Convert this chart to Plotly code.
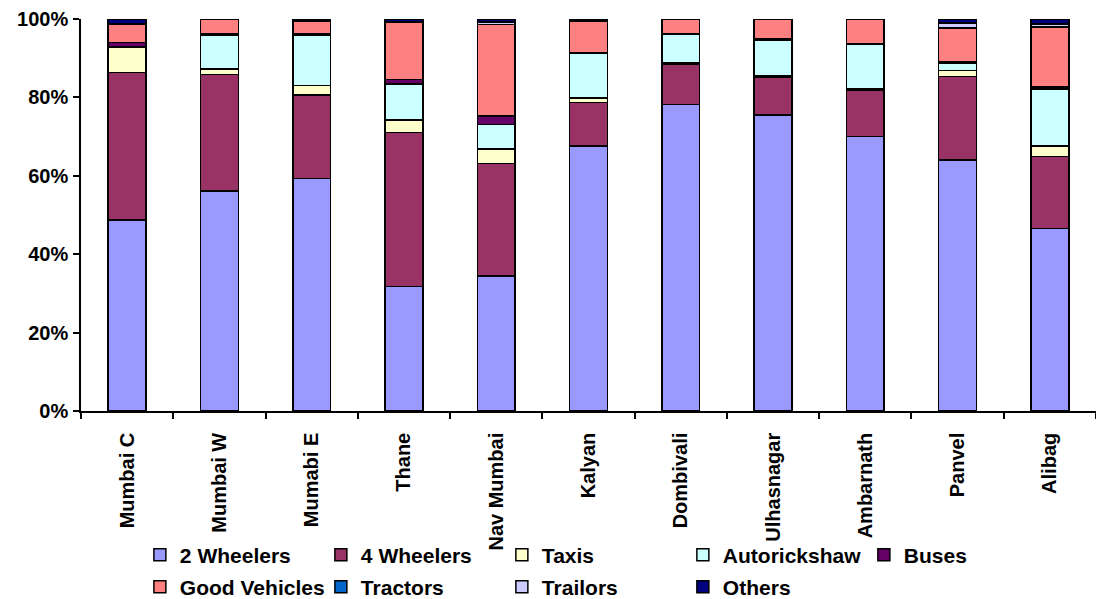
import plotly.graph_objects as go

# Share of registered vehicles by type for each RTO region (percent of total)
regions = ["Mumbai C", "Mumbai W", "Mumabi E", "Thane", "Nav Mumbai", "Kalyan",
           "Dombivali", "Ulhasnagar", "Ambarnath", "Panvel", "Alibag"]

two_wheelers = [48.7, 56.1, 59.3, 31.7, 34.4, 67.6, 78.2, 75.5, 70.0, 64.0, 46.6]
four_wheelers = [37.6, 29.7, 21.3, 39.4, 28.8, 11.1, 10.3, 9.6, 11.9, 21.3, 18.3]
taxis = [6.5, 1.4, 2.4, 3.1, 3.6, 1.1, 0.3, 0.3, 0.4, 1.5, 2.7]
autorickshaw = [0.2, 8.7, 12.9, 9.2, 6.3, 11.4, 7.3, 9.2, 11.3, 2.0, 14.6]
buses = [1.0, 0.4, 0.3, 1.2, 2.1, 0.3, 0.1, 0.4, 0.1, 0.4, 0.4]
good_vehicles = [4.7, 3.7, 3.3, 14.5, 23.4, 8.0, 3.8, 5.0, 6.3, 8.4, 15.3]
tractors = [0.1, 0.0, 0.0, 0.0, 0.0, 0.0, 0.0, 0.0, 0.0, 0.1, 0.0]
trailors = [0.1, 0.0, 0.0, 0.3, 0.6, 0.0, 0.0, 0.0, 0.0, 1.3, 0.8]
others = [1.1, 0.0, 0.5, 0.6, 0.8, 0.5, 0.0, 0.0, 0.0, 1.0, 1.3]

# (name, values, colour, legend row)
series = [
    ("2 Wheelers", two_wheelers, "#9999FF", "legend"),
    ("4 Wheelers", four_wheelers, "#993366", "legend"),
    ("Taxis", taxis, "#FFFFCC", "legend"),
    ("Autorickshaw", autorickshaw, "#CCFFFF", "legend"),
    ("Buses", buses, "#660066", "legend"),
    ("Good Vehicles", good_vehicles, "#FF8080", "legend2"),
    ("Tractors", tractors, "#0066CC", "legend2"),
    ("Trailors", trailors, "#CCCCFF", "legend2"),
    ("Others", others, "#000080", "legend2"),
]

y_ticks = [0, 20, 40, 60, 80, 100]

FONT = "Liberation Sans, Arial, sans-serif"
legend_font = dict(family=FONT, size=21, color="black", weight="bold")
tick_font = dict(family=FONT, size=20, color="black", weight="bold")

fig = go.Figure()
for name, values, color, leg in series:
    fig.add_trace(go.Bar(
        name=name, x=regions, y=values, legend=leg,
        marker=dict(color=color, line=dict(color="#000000", width=1.5)),
    ))

legend_common = dict(
    orientation="h", x=0.058, xanchor="left",
    yref="container", yanchor="middle",
    entrywidth=136, entrywidthmode="pixels",
    font=legend_font, traceorder="normal",
    bgcolor="rgba(0,0,0,0)",
)

fig.update_layout(
    barmode="stack",
    barnorm="percent",
    bargap=0.59,
    width=1096, height=599,
    margin=dict(l=81, r=0, t=19, b=188),
    paper_bgcolor="white", plot_bgcolor="white",
    font=dict(family=FONT, size=18, color="black", weight="bold"),
    showlegend=True,
    legend=dict(y=1 - 555 / 599, **legend_common),
    legend2=dict(y=1 - 587 / 599, **legend_common),
)

fig.update_xaxes(
    type="category", automargin=False,
    showline=True, linecolor="black", linewidth=1.5,
    ticks="outside", ticklen=6, tickcolor="black", tickwidth=1.5,
    tickson="boundaries",
    tickangle=-90,
    ticklabelstandoff=12,
    tickfont=tick_font,
    showgrid=False, zeroline=False,
)

fig.update_yaxes(
    range=[0, 100], automargin=False,
    tickvals=y_ticks, ticktext=[f"{v}%" for v in y_ticks],
    showline=True, linecolor="black", linewidth=1.5,
    ticks="outside", ticklen=6, tickcolor="black", tickwidth=1.5,
    ticklabelstandoff=1,
    tickfont=tick_font,
    showgrid=False, zeroline=False,
)

fig.write_html("out.html")
